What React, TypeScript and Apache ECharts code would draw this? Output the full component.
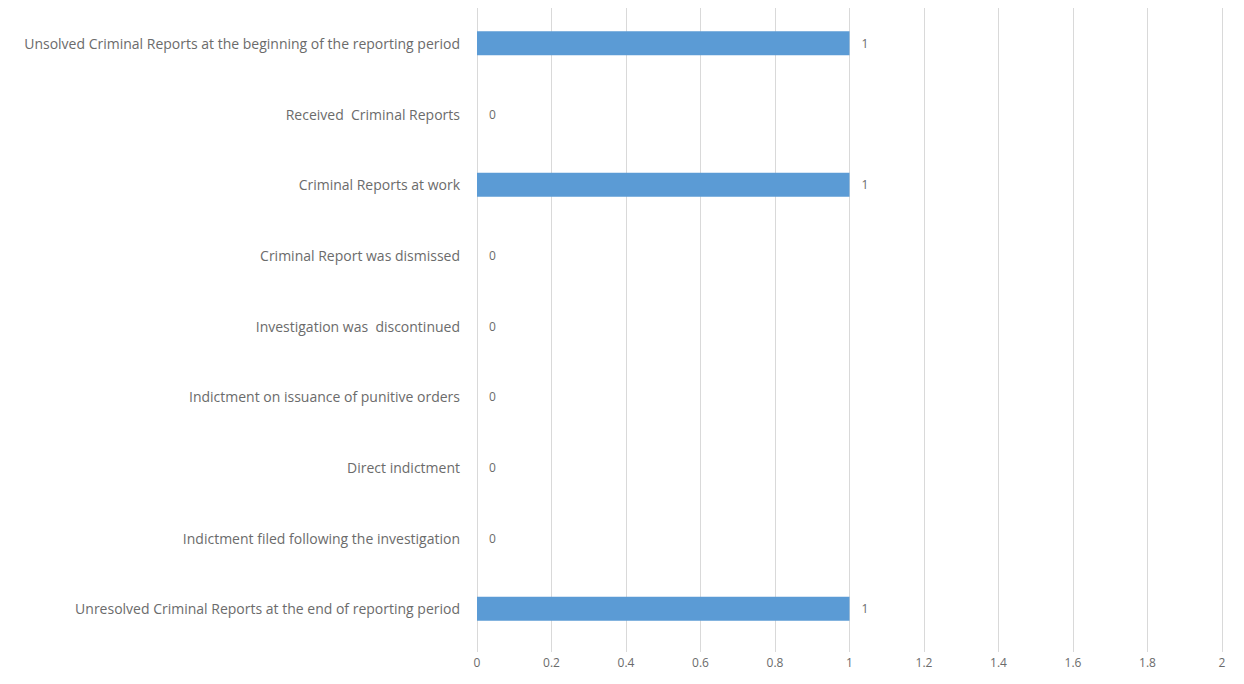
import React, { useEffect, useRef } from "react";
import * as echarts from "echarts";

const categories = [
  "Unsolved Criminal Reports at the beginning of the reporting period",
  "Received  Criminal Reports",
  "Criminal Reports at work",
  "Criminal Report was dismissed",
  "Investigation was  discontinued",
  "Indictment on issuance of punitive orders",
  "Direct indictment",
  "Indictment filed following the investigation",
  "Unresolved Criminal Reports at the end of reporting period",
];
const values = [1, 0, 1, 0, 0, 0, 0, 0, 1];
const xTicks = { min: 0, max: 2, interval: 0.2 };

export default function App() {
  const ref = useRef<HTMLDivElement>(null);
  useEffect(() => {
    document.body.style.margin = "0";
    const chart = echarts.init(ref.current!, null, { renderer: "svg" });
    const font = "'Open Sans', 'Liberation Sans', sans-serif";
    chart.setOption({
      animation: false,
      backgroundColor: "#ffffff",
      grid: { left: 477, right: 22, top: 8, bottom: 40, containLabel: false },
      xAxis: {
        type: "value",
        min: xTicks.min,
        max: xTicks.max,
        interval: xTicks.interval,
        axisLine: { show: false },
        axisTick: { show: true, length: 8, lineStyle: { color: "#d9d9d9" } },
        splitLine: { show: true, lineStyle: { color: "#d9d9d9", width: 1 } },
        axisLabel: {
          color: "#6b6b6b",
          fontFamily: font,
          fontSize: 12,
          margin: 12,
          formatter: (v: number) => String(Math.round(v * 10) / 10),
        },
      },
      yAxis: {
        type: "category",
        inverse: true,
        data: categories,
        axisLine: { show: false },
        axisTick: { show: false },
        axisLabel: { color: "#6b6b6b", fontFamily: font, fontSize: 14, margin: 17 },
      },
      series: [
        {
          type: "bar",
          data: values,
          barWidth: 24,
          itemStyle: { color: "#5b9bd5" },
          label: {
            show: true,
            position: "right",
            distance: 12,
            color: "#6b6b6b",
            fontFamily: font,
            fontSize: 12,
          },
        },
      ],
    });
    return () => chart.dispose();
  }, []);
  return (
    <div
      ref={ref}
      style={{ position: "absolute", left: 0, top: 0, width: 1244, height: 684 }}
    />
  );
}
